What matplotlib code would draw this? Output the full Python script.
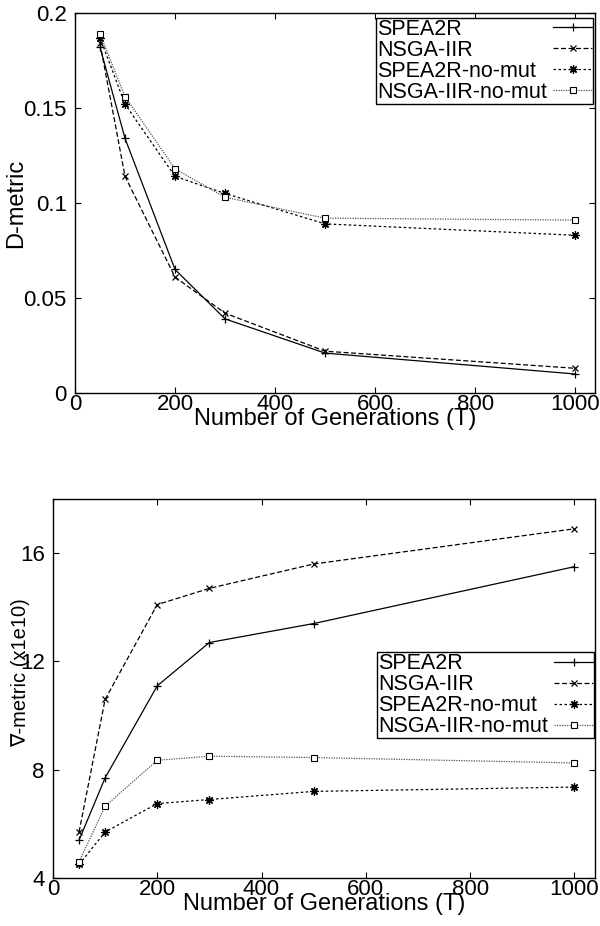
import matplotlib.pyplot as plt
import numpy as np

plt.rcParams['font.family'] = ['Liberation Sans', 'DejaVu Sans']
plt.rcParams['font.size'] = 16

gens = [50, 100, 200, 300, 500, 1000]
names = ["SPEA2R", "NSGA-IIR", "SPEA2R-no-mut", "NSGA-IIR-no-mut"]

# D-metric
d_spea2r = [0.182, 0.134, 0.065, 0.039, 0.021, 0.010]
d_nsga2r = [0.184, 0.114, 0.061, 0.042, 0.022, 0.013]
d_spea2r_nm = [0.187, 0.152, 0.114, 0.105, 0.089, 0.083]
d_nsga2r_nm = [0.189, 0.156, 0.118, 0.103, 0.092, 0.091]

# nabla-metric (x1e10)
n_spea2r = [5.4, 7.7, 11.1, 12.7, 13.4, 15.5]
n_nsga2r = [5.7, 10.6, 14.1, 14.7, 15.6, 16.9]
n_spea2r_nm = [4.5, 5.7, 6.75, 6.9, 7.2, 7.36]
n_nsga2r_nm = [4.6, 6.65, 8.35, 8.5, 8.45, 8.25]

styles = [
    dict(color='black', ls='-', marker='+', ms=6, mew=0.9),
    dict(color='black', ls=(0, (4, 2)), marker='x', ms=5, mew=0.9),
    dict(color='black', ls=(0, (2, 2)), marker=(8, 2, 0), ms=6, mew=0.9),
    dict(color='#555555', ls=(0, (1, 1)), marker='s', ms=5, mfc='white', mec='black', mew=0.8),
]

fig = plt.figure(figsize=(6, 9.26), dpi=100)
ax1 = fig.add_axes([0.125, 0.5756, 0.867, 0.4104])
ax2 = fig.add_axes([0.0883, 0.0518, 0.9037, 0.4093])


def setup(ax):
    ax.tick_params(direction='in', top=True, right=True, length=4, width=0.8,
                   pad=6, labelsize=16)
    ax.tick_params(axis='x', pad=1)
    for s in ax.spines.values():
        s.set_linewidth(1.0)
    ax.set_xlim(0, 1040)
    ax.set_xticks([0, 200, 400, 600, 800, 1000])


legends = []


def add_legend(ax, anchor):
    leg = ax.legend(loc='upper right', bbox_to_anchor=anchor, borderaxespad=0,
                    markerfirst=False, fancybox=False, framealpha=1, edgecolor='black',
                    borderpad=0.05, labelspacing=0.0, handlelength=1.8, handletextpad=0.3,
                    fontsize=15.5)
    leg.get_frame().set_linewidth(1.0)
    legends.append(leg)


for ys, nm, st in zip([d_spea2r, d_nsga2r, d_spea2r_nm, d_nsga2r_nm], names, styles):
    ax1.plot(gens, ys, lw=0.9, label=nm, **st)
setup(ax1)
ax1.set_ylim(0, 0.2)
ax1.set_yticks([0, 0.05, 0.1, 0.15, 0.2])
ax1.set_yticklabels(["0", "0.05", "0.1", "0.15", "0.2"])
ax1.set_ylabel("D-metric", fontsize=17)
ax1.yaxis.set_label_coords(-0.092, 0.5)
ax1.set_xlabel("Number of Generations (T)", fontsize=17, labelpad=-5)
add_legend(ax1, (0.996, 0.987))

for ys, nm, st in zip([n_spea2r, n_nsga2r, n_spea2r_nm, n_nsga2r_nm], names, styles):
    ax2.plot(gens, ys, lw=0.9, label=nm, **st)
setup(ax2)
ax2.set_ylim(4, 18)
ax2.set_yticks([4, 8, 12, 16])
ax2.set_ylabel("\u2207-metric (x1e10)", fontsize=14.5)
ax2.yaxis.set_label_coords(-0.042, 0.543)
ax2.set_xlabel("Number of Generations (T)", fontsize=17, labelpad=-5)
add_legend(ax2, (0.998, 0.596))

# gnuplot-style key: labels left, samples right
fig.canvas.draw()
r = fig.canvas.get_renderer()
for leg in legends:
    try:
        col = leg._legend_handle_box.get_children()[0]
        rows = col.get_children()
        w = max(row.get_bbox(r).width for row in rows)
        col.align = 'left'
        for row in rows:
            row.mode = 'expand'
            row.width = w
    except Exception:
        pass

fig.savefig("out.png", dpi=100)
